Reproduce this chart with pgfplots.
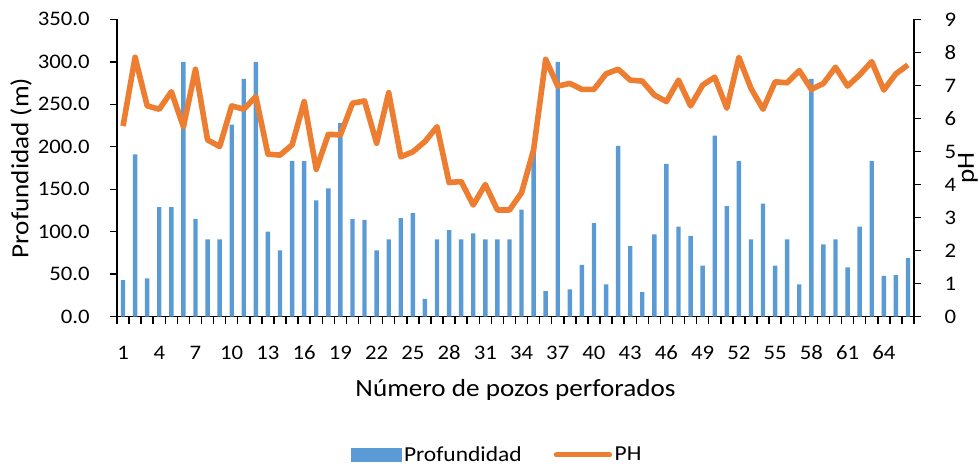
\documentclass[border=0pt]{standalone}
\usepackage{fontspec}
\setmainfont{Carlito}[FakeStretch=1.1]
\usepackage{pgfplots}
\usepackage{pgfplotstable}
\pgfplotsset{compat=1.18}
\definecolor{barblue}{HTML}{5B9BD5}
\definecolor{phorange}{HTML}{ED7D31}

\pgfplotstableread{
x d
1 43
2 191
3 45
4 129
5 129
6 300
7 115
8 91
9 91
10 226
11 280
12 300
13 100
14 78
15 183
16 183
17 137
18 151
19 228
20 115
21 114
22 78
23 91
24 116
25 122
26 21
27 91
28 102
29 91
30 98
31 91
32 91
33 91
34 126
35 195
36 30
37 300
38 32
39 61
40 110
41 38
42 201
43 83
44 29
45 97
46 180
47 106
48 95
49 60
50 213
51 130
52 183
53 91
54 133
55 60
56 91
57 38
58 280
59 85
60 91
61 58
62 106
63 183
64 48
65 49
66 69
}\depthtab

\pgfplotstableread{
x p
1 5.77
2 7.85
3 6.38
4 6.28
5 6.81
6 5.75
7 7.49
8 5.35
9 5.15
10 6.38
11 6.28
12 6.66
13 4.92
14 4.89
15 5.2
16 6.51
17 4.46
18 5.52
19 5.5
20 6.46
21 6.53
22 5.25
23 6.78
24 4.84
25 4.99
26 5.3
27 5.75
28 4.06
29 4.09
30 3.38
31 4.0
32 3.23
33 3.23
34 3.75
35 5.05
36 7.79
37 6.98
38 7.06
39 6.88
40 6.88
41 7.35
42 7.49
43 7.16
44 7.13
45 6.71
46 6.51
47 7.16
48 6.38
49 7.01
50 7.25
51 6.31
52 7.85
53 6.91
54 6.28
55 7.11
56 7.08
57 7.45
58 6.88
59 7.06
60 7.55
61 6.98
62 7.32
63 7.72
64 6.86
65 7.35
66 7.62
}\phtab

\begin{document}
\begin{tikzpicture}
\pgfplotsset{
 common/.style={
  scale only axis, width=597.75pt, height=223pt, at={(0,0)}, anchor=south west,
  xmin=0.5, xmax=66.5,
  tick align=outside,
  major tick length=5.25pt, minor tick length=5.25pt,
  axis line style={line width=1.1pt, black},
  tick style={black, line width=1.1pt},
  tick label style={font=\fontsize{15.5}{18}\selectfont, inner sep=0pt, black},
  /pgf/number format/assume math mode=true,
 }
}
\begin{axis}[common,
  axis x line*=bottom, axis y line*=left,
  ymin=0, ymax=350, ytick={0,50,...,350},
  yticklabel style={anchor=east, xshift=-15pt, /pgf/number format/fixed, /pgf/number format/fixed zerofill, /pgf/number format/precision=1},
  xtick={1,4,...,64}, minor xtick={0.5,1.5,...,66.5},
  major x tick style={draw=none},
  xticklabel style={anchor=center, yshift=-22pt},
  xlabel={Número de pozos perforados},
  xlabel style={at={(axis description cs:0.5,-0.247)}, anchor=center, font=\fontsize{18.5}{22}\selectfont},
  ylabel={Profundidad (m)},
  ylabel style={at={(axis description cs:-0.1205,0.5)}, anchor=center, font=\fontsize{18.5}{22}\selectfont},
]
\addplot[ybar, bar width=3.3pt, fill=barblue, draw=none] table[x=x,y=d]{\depthtab};
\end{axis}
\begin{axis}[common,
  axis x line=none, axis y line*=right,
  ymin=0, ymax=9, ytick={0,1,...,9},
  yticklabel style={anchor=west, xshift=17.5pt},
  ylabel={pH},
  ylabel style={at={(axis description cs:1.0678,0.5)}, anchor=center, font=\fontsize{18.5}{22}\selectfont},
  legend columns=-1,
  legend style={at={(axis description cs:0.4774,-0.465)}, anchor=center, draw=none, fill=none,
    font=\fontsize{16}{19}\selectfont,
    /tikz/every even column/.append style={column sep=22pt}},
]
\addlegendimage{legend image code/.code={\fill[barblue] (0pt,-5pt) rectangle (37.5pt,5pt);}}
\addlegendentry{Profundidad}
\addplot[phorange, line width=4.2pt, line join=round, mark=none,
  legend image code/.code={\draw[phorange, line width=3.75pt, line cap=round] (0pt,0pt) -- (40pt,0pt);}]
  table[x=x,y=p]{\phtab};
\addlegendentry{PH}
\end{axis}
\pgfresetboundingbox
\path (-87.75pt,-113.5pt) rectangle (646.5pt,237.5pt);
\end{tikzpicture}
\end{document}
